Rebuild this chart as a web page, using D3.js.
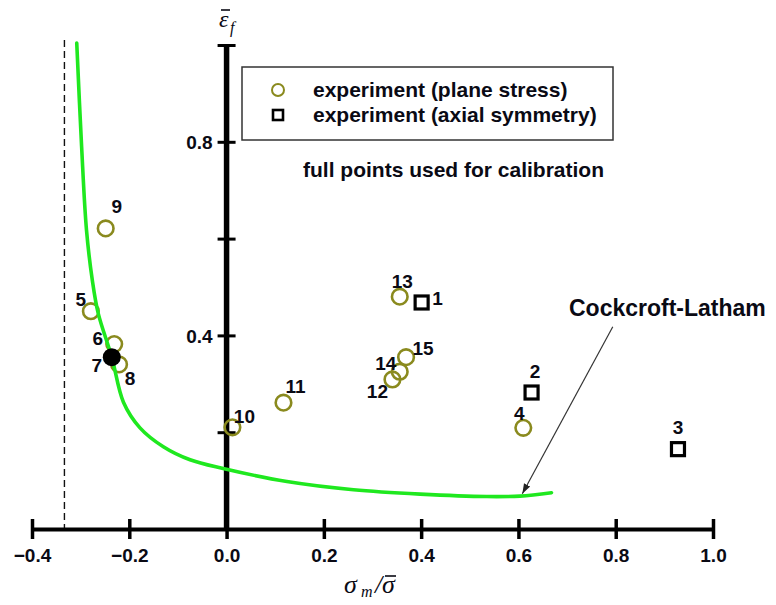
<!DOCTYPE html>
<html>
<head>
<meta charset="utf-8">
<script src="https://cdn.jsdelivr.net/npm/d3@7"></script>
<style>
  body { margin: 0; background: #fff; }
  svg { display: block; }
  text { font-family: "Liberation Sans", Arial, sans-serif; fill: #0a0a14; }
  .greek { font-family: "Liberation Serif", "Times New Roman", serif; font-style: italic; }
</style>
</head>
<body>
<script>
// ---- data ----
const xTicks = [-0.4, -0.2, 0.0, 0.2, 0.4, 0.6, 0.8, 1.0];
const yTicks = [0.2, 0.4, 0.6, 0.8, 1.0];
const yTickLabels = [0.4, 0.8];

// plane stress experiments (id 7 used for calibration)
const psIds = [4, 5, 6, 7, 8, 9, 10, 11, 12, 13, 14, 15];
const psX   = [0.610, -0.279, -0.231, -0.236, -0.221, -0.2485, 0.012, 0.117, 0.341, 0.356, 0.356, 0.369];
const psY   = [0.209, 0.450, 0.382, 0.355, 0.340, 0.621, 0.210, 0.261, 0.309, 0.480, 0.325, 0.355];
const calibratedIds = [7];

// axial symmetry experiments
const axIds = [1, 2, 3];
const axX   = [0.401, 0.627, 0.928];
const axY   = [0.468, 0.282, 0.165];

// Cockcroft-Latham fracture locus
const clX = [-0.308, -0.298, -0.288, -0.276, -0.264, -0.236, -0.212, -0.178, -0.130, -0.075, -0.007, 0.124, 0.261, 0.398, 0.535, 0.603, 0.668];
const clY = [1.004, 0.790, 0.618, 0.514, 0.446, 0.355, 0.262, 0.209, 0.170, 0.143, 0.125, 0.098, 0.081, 0.072, 0.067, 0.068, 0.075];

// limit of triaxiality (dashed)
const cutoffX = -1 / 3;

// ---- layout ----
const W = 776, H = 605;
const x = d3.scaleLinear().domain([-0.4, 1.0]).range([32, 713]);
const y = d3.scaleLinear().domain([0, 1.0]).range([529, 45]);

// label placement relative to each marker (pixels)
const labelOffset = {
  1: [16, 3], 2: [3.5, -15], 3: [0, -15], 4: [-4, -8],
  5: [-10, -5], 6: [-16.5, 1], 7: [-15, 14.5], 8: [11, 21],
  9: [11, -15], 10: [12, -4], 11: [12, -10], 12: [-15, 18.5],
  13: [2.5, -9], 14: [-14, -2], 15: [17, -2]
};

const olive = "#8a8a1e";
const svg = d3.select("body").append("svg").attr("width", W).attr("height", H);

// dashed limit line
svg.append("line")
  .attr("x1", x(cutoffX)).attr("x2", x(cutoffX))
  .attr("y1", 40).attr("y2", y(0))
  .attr("stroke", "#111").attr("stroke-width", 1.4)
  .attr("stroke-dasharray", "7,4");

// x axis
const xAxis = svg.append("g").attr("transform", `translate(0,${y(0)})`)
  .call(d3.axisBottom(x).tickValues(xTicks).tickSize(10).tickSizeOuter(0).tickFormat(d3.format(".1f")));
xAxis.select(".domain").attr("stroke", "#000").attr("stroke-width", 4);
xAxis.selectAll(".tick line").attr("y1", -10).attr("y2", 10).attr("stroke", "#000").attr("stroke-width", 3.5);
xAxis.selectAll(".tick text").attr("y", 33).attr("dy", null)
  .style("font-size", "19px").style("font-weight", "bold")
  .style("font-family", "'Liberation Sans', Arial, sans-serif").attr("fill", "#0a0a14");

// y axis
const yAxis = svg.append("g").attr("transform", `translate(${x(0)},0)`)
  .call(d3.axisLeft(y).tickValues(yTicks).tickSize(9).tickSizeOuter(0)
    .tickFormat(d => yTickLabels.includes(d) ? d3.format(".1f")(d) : ""));
yAxis.select(".domain").attr("stroke", "#000").attr("stroke-width", 5.5)
  .attr("d", `M0,${y(0) + 2}V${y(1.0) - 1}`);
yAxis.selectAll(".tick line").attr("x1", -9).attr("x2", 9).attr("stroke", "#000").attr("stroke-width", 3);
yAxis.selectAll(".tick text").attr("x", -14).attr("dy", "0.35em")
  .style("font-size", "19px").style("font-weight", "bold")
  .style("font-family", "'Liberation Sans', Arial, sans-serif").attr("fill", "#0a0a14");

// plane stress experiments (open circles)
const ps = psIds.map((id, i) => ({ id, x: psX[i], y: psY[i], cal: calibratedIds.includes(id) }));
svg.append("g").selectAll("circle").data(ps.filter(d => !d.cal)).join("circle")
  .attr("cx", d => x(d.x)).attr("cy", d => y(d.y)).attr("r", 7.8)
  .attr("fill", "none").attr("stroke", olive).attr("stroke-width", 2.6);

// axial symmetry experiments (open squares)
const ax = axIds.map((id, i) => ({ id, x: axX[i], y: axY[i] }));
const sq = 13;
svg.append("g").selectAll("rect").data(ax).join("rect")
  .attr("x", d => x(d.x) - sq / 2).attr("y", d => y(d.y) - sq / 2)
  .attr("width", sq).attr("height", sq)
  .attr("fill", "none").attr("stroke", "#000").attr("stroke-width", 3.2);

// Cockcroft-Latham curve
const clPts = clX.map((v, i) => [v, clY[i]]);
svg.append("path").datum(clPts)
  .attr("d", d3.line().x(d => x(d[0])).y(d => y(d[1])).curve(d3.curveCatmullRom.alpha(0.5)))
  .attr("fill", "none").attr("stroke", "#1fe81f").attr("stroke-width", 3.6).attr("stroke-linecap", "round");

// calibration point (filled)
svg.append("g").selectAll("circle").data(ps.filter(d => d.cal)).join("circle")
  .attr("cx", d => x(d.x)).attr("cy", d => y(d.y)).attr("r", 9)
  .attr("fill", "#000");

// point numbers
svg.append("g").selectAll("text").data([...ps, ...ax]).join("text")
  .attr("x", d => x(d.x) + labelOffset[d.id][0])
  .attr("y", d => y(d.y) + labelOffset[d.id][1])
  .attr("text-anchor", "middle")
  .style("font-size", "19px").style("font-weight", "bold")
  .text(d => d.id);

// legend
svg.append("rect").attr("x", 242).attr("y", 67).attr("width", 371).attr("height", 73)
  .attr("fill", "#fff").attr("stroke", "#333").attr("stroke-width", 1.5);
svg.append("circle").attr("cx", 278).attr("cy", 90).attr("r", 6)
  .attr("fill", "none").attr("stroke", olive).attr("stroke-width", 2);
svg.append("rect").attr("x", 273).attr("y", 110).attr("width", 10).attr("height", 10)
  .attr("fill", "none").attr("stroke", "#000").attr("stroke-width", 2.6);
svg.append("text").attr("x", 313).attr("y", 97).style("font-size", "21px").style("font-weight", "bold")
  .text("experiment (plane stress)");
svg.append("text").attr("x", 313).attr("y", 122).style("font-size", "21px").style("font-weight", "bold")
  .text("experiment (axial symmetry)");
svg.append("text").attr("x", 303).attr("y", 177).style("font-size", "21px").style("font-weight", "bold")
  .text("full points used for calibration");

// curve annotation
svg.append("defs").append("marker")
  .attr("id", "arrowhead").attr("viewBox", "0 0 10 10").attr("refX", 10).attr("refY", 5)
  .attr("markerWidth", 10).attr("markerHeight", 10).attr("markerUnits", "userSpaceOnUse")
  .attr("orient", "auto")
  .append("path").attr("d", "M0,1.5L10,5L0,8.5Z").attr("fill", "#222");
svg.append("line")
  .attr("x1", x(0.794)).attr("y1", y(0.418)).attr("x2", x(0.608)).attr("y2", y(0.073))
  .attr("stroke", "#333").attr("stroke-width", 1.2).attr("marker-end", "url(#arrowhead)");
svg.append("text").attr("x", 569).attr("y", 316).style("font-size", "23px").style("font-weight", "bold")
  .text("Cockcroft-Latham");

// axis titles with overbars
function overbar(textSel, pad) {
  const b = textSel.node().getBBox();
  svg.append("line").attr("x1", b.x + pad[0]).attr("x2", b.x + b.width + pad[1])
    .attr("y1", b.y + pad[2]).attr("y2", b.y + pad[2])
    .attr("stroke", "#0a0a14").attr("stroke-width", 1.6);
}
const eps = svg.append("text").attr("class", "greek").attr("x", 219).attr("y", 27)
  .style("font-size", "24px").text("ε");
overbar(eps, [2, 1, 4]);
svg.append("text").attr("class", "greek").attr("x", 230).attr("y", 33)
  .style("font-size", "16px").text("f");

const sig1 = svg.append("text").attr("class", "greek").attr("x", 344).attr("y", 593)
  .style("font-size", "26px").text("σ");
svg.append("text").attr("class", "greek").attr("x", 361).attr("y", 597)
  .style("font-size", "16px").text("m");
svg.append("text").attr("class", "greek").attr("x", 375).attr("y", 593)
  .style("font-size", "26px").text("/");
const sig2 = svg.append("text").attr("class", "greek").attr("x", 382).attr("y", 593)
  .style("font-size", "26px").text("σ");
overbar(sig2, [3, 0, 6]);
</script>
</body>
</html>
